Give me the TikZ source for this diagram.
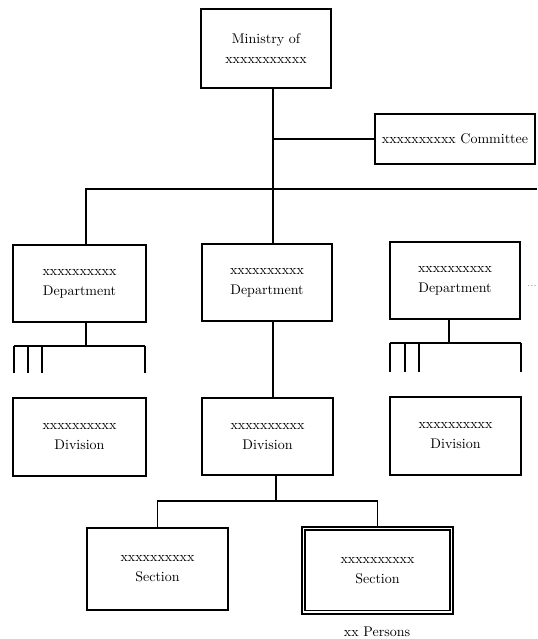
\documentclass[tikz,border=0pt]{standalone}
\usepackage{amsmath,amssymb}
\usepackage{xcolor}
\usepackage{tikz}
\usetikzlibrary{calc,positioning}

\begin{document}
\begin{tikzpicture}[x=0.75pt,y=0.75pt,yscale=-1,xscale=1,
  orgbox/.style={draw,line width=0.9pt,inner sep=0.75pt,align=center,font=\fontsize{10.5}{15}\selectfont},
  orgline/.style={line width=0.9pt}]
\useasboundingbox (0,0) rectangle (537,639);

% Boxes
\node [orgbox,minimum width=97.5pt,minimum height=59.25pt] (min) at (266,48.5) {Ministry of\\xxxxxxxxxxx};
\node [orgbox,minimum width=120pt,minimum height=37.5pt] (com) at (455,139) {xxxxxxxxxx Committee};
\node [orgbox,minimum width=99.75pt,minimum height=57.75pt] (dep1) at (79.5,283.5) {xxxxxxxxxx\\Department};
\node [orgbox,minimum width=97.5pt,minimum height=57.75pt] (dep2) at (267,282.5) {xxxxxxxxxx\\Department};
\node [orgbox,minimum width=97.5pt,minimum height=57.75pt] (dep3) at (455,280.5) {xxxxxxxxxx\\Department};
\node [orgbox,minimum width=99.75pt,minimum height=58.5pt] (div1) at (79.5,437) {xxxxxxxxxx\\Division};
\node [orgbox,minimum width=98.25pt,minimum height=57.75pt] (div2) at (267.5,436.5) {xxxxxxxxxx\\Division};
\node [orgbox,minimum width=98.25pt,minimum height=58.5pt] (div3) at (455.5,436) {xxxxxxxxxx\\Division};
\node [orgbox,minimum width=105.75pt,minimum height=61.5pt] (sec1) at (157.5,569) {xxxxxxxxxx\\Section};
\node [orgbox,line width=2.2pt,minimum width=113.25pt,minimum height=65.25pt] (sec2) at (377.5,570.5) {xxxxxxxxxx\\Section};
\draw [line width=1.3pt] ($(sec2.north west)+(4.5,4.5)$) rectangle ($(sec2.south east)+(-4.5,-5)$);

% Text Node
\node [inner sep=0.75pt,font=\fontsize{10.5}{15}\selectfont] (pers) at (377,632) {xx Persons};
% Text Node
\node [inner sep=0.75pt,text=gray,font=\scriptsize] (more) at (532,286) {...};

% Lines
\coordinate (bus) at (273,189);
\coordinate (busL) at (86,189);
\coordinate (busR) at (537,189);
\draw [orgline] (min.south -| bus) -- (bus);
\draw [orgline] (bus |- com.west) -- (com.west);
\draw [orgline] (dep1.north -| busL) |- (busR);
\draw [orgline] (dep2.north -| bus) -- (bus);
\draw [orgline] (dep2.south -| bus) -- (div2.north -| bus);

% sub lines under left and right departments
\coordinate (sub1) at (86,346);
\coordinate (sub3) at (449,343);
\draw [orgline] (dep1.south -| sub1) -- (sub1);
\draw [orgline] (dep3.south -| sub3) -- (sub3);
\foreach \x in {14,28,42,145} {
  \coordinate (s) at (\x,373);
  \draw [orgline] (s) -- (s |- sub1);
}
\draw [orgline] (14,346) -- (145,346);
\foreach \x in {390,405,419,521} {
  \coordinate (s) at (\x,372);
  \draw [orgline] (s) -- (s |- sub3);
}
\draw [orgline] (390,343) -- (521,343);

% sections
\coordinate (secbus) at (276,501);
\draw [orgline] (div2.south -| secbus) -- (secbus);
\draw [orgline] (sec1.north) |- (secbus) -| (sec2.north);

\end{tikzpicture}
\end{document}
